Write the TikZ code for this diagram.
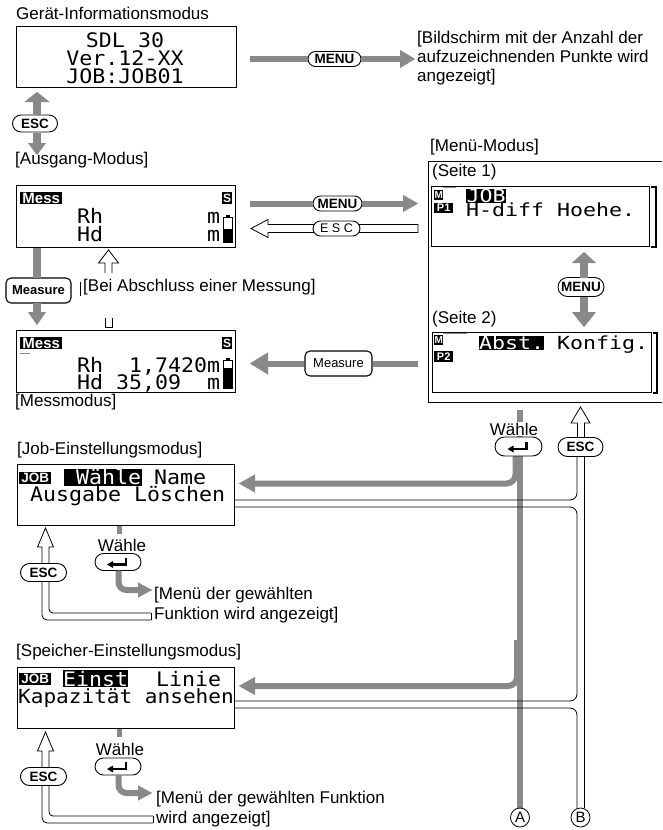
\documentclass[tikz,border=0pt]{standalone}
\usepackage{fontspec}
\setmainfont{Liberation Sans}
\newfontfamily\scrfont[FakeStretch=1.08]{DejaVu Sans Mono}
\newfontfamily\scrwide[FakeStretch=1.2]{DejaVu Sans Mono}
\usetikzlibrary{arrows.meta,shapes.misc}
\definecolor{keygray}{RGB}{137,137,137}
\tikzset{
  lbl/.style={anchor=base west, inner sep=0pt, font=\fontsize{17}{19}\selectfont},
  scr/.style={anchor=base west, inner sep=0pt, font=\scrfont\fontsize{20}{16}\selectfont},
  scrw/.style={anchor=base west, inner sep=0pt, font=\scrwide\fontsize{18}{14}\selectfont},
  screen/.style={draw, line width=1.4pt, anchor=north west, inner sep=0pt},
  inv/.style={fill=black, text=white, inner sep=0pt, anchor=north west, font=\bfseries\fontsize{#1}{#1}\selectfont},
  pill/.style={rounded rectangle, draw, fill=white, line width=0.9pt, inner sep=0pt, font=\bfseries\fontsize{13.5}{13.5}\selectfont},
  keybox/.style={rounded corners=5pt, draw, fill=white, line width=1.1pt, inner sep=0pt},
  gline/.style={draw=keygray, line width=6pt},
  garrow/.style={keygray, line width=6pt, -{Triangle[length=14pt,width=18pt,line width=0.01pt]}},
  gvert/.style={keygray, line width=8pt, -{Triangle[length=12pt,width=22pt,line width=0.01pt]}},
  wall/.style={draw=black, line width=0.8pt},
  hollow/.style={draw=black, fill=white, line width=0.8pt},
  circ/.style={circle, draw, line width=0.8pt, minimum size=19pt, inner sep=0pt, font=\fontsize{15}{15}\selectfont},
  bracketline/.style={line width=1.2pt},
  enterglyph/.pic={\draw[line width=2.2pt] (-7,2.5) -- (8,2.5) -- (8,-4.5); \fill (-11,2.5) -- (-5,-1) -- (-5,6) -- cycle;}
}
\begin{document}
\begin{tikzpicture}[x=1pt,y=-1pt]
\fill[white] (0,0) rectangle (662,830);
\useasboundingbox (0,0) rectangle (662,830);

% ---------- device info screen
\node[lbl] (t1) at (16,19) {Gerät-Informationsmodus};
\node[screen, minimum width=220pt, minimum height=61pt] (s1) at (16,26) {};
\node[scr, anchor=base] (s1a) at (125,47) {SDL 30};
\node[scr, anchor=base] (s1b) at (125,65) {Ver.12-XX};
\node[scr, anchor=base] (s1c) at (125,83) {JOB:JOB01};

\node[pill, minimum width=53pt, minimum height=15pt] (km1) at (334.5,59) {MENU};
\draw[gline] (250,59) -- (km1.west);
\draw[garrow, -{Triangle[length=15pt,width=18pt,line width=0.01pt]}] (km1.east) -- (415,59);
\node[lbl] (info1) at (417,43.5) {[Bildschirm mit der Anzahl der};
\node[lbl] (info2) at (417,62.5) {aufzuzeichnenden Punkte wird};
\node[lbl] (info3) at (417,81.5) {angezeigt]};

\node[pill, minimum width=45pt, minimum height=17pt] (ke1) at (35,123.5) {ESC};
\draw[gvert, -{Triangle[length=10pt,width=25pt,line width=0.01pt]}] (37,114.5) -- (37,92);
\draw[gvert, -{Triangle[length=12pt,width=18pt,line width=0.01pt]}] (37,132.5) -- (37,155);

% ---------- start screen
\node[lbl] (t2) at (15,164.5) {[Ausgang-Modus]};
\node[screen, minimum width=219pt, minimum height=62pt] (s2) at (16,185) {};
\node[inv=15, minimum width=42pt, minimum height=12pt] (mess2) at (20,192) {Mess};
\node[inv=12, minimum width=10pt, minimum height=12pt] (sig2) at (222,192) {S};
\node[scr] (rh2) at (77,223.5) {Rh};
\node[scr] (m2a) at (207,223.5) {m};
\node[scr] (hd2) at (77,241.5) {Hd};
\node[scr] (m2b) at (207,241.5) {m};
\draw[line width=1pt] (223.5,217.5) rectangle (232.5,242);
\fill (226,214.5) rectangle (230,217.5);
\fill (223.5,229) rectangle (232.5,242);

\node[pill, minimum width=49pt, minimum height=15pt] (km2) at (337.5,203.5) {MENU};
\draw[gline] (250,203.5) -- (km2.west);
\draw[garrow, -{Triangle[length=15pt,width=17pt,line width=0.01pt]}] (km2.east) -- (418,203.5);
\draw[hollow] (418,224.5) -- (268,224.5) -- (268,219.5) -- (251,228.5) -- (268,237.5) -- (268,232.5) -- (418,232.5) -- cycle;
\node[pill, font=\fontsize{12.5}{12.5}\selectfont, minimum width=47pt, minimum height=15pt] (ke2) at (336.5,228.5) {E S C};

% ---------- end of measurement
\draw[wall] (105,273) -- (105,263) -- (98.5,263) -- (108.5,250) -- (118.5,263) -- (112,263) -- (112,273);
\draw[wall] (105,318) -- (105,327) -- (112,327) -- (112,318);
\draw[line width=0.6pt] (80.5,282) -- (80.5,296);
\node[lbl] (bei) at (83,291.5) {[Bei Abschluss einer Messung]};

\node[keybox, font=\bfseries\fontsize{13}{13}\selectfont, minimum width=65pt, minimum height=25pt] (kms1) at (38.5,290.5) {Measure};
\draw[gvert, -] (37,247.7) -- (37,278);
\draw[gvert, -{Triangle[length=13pt,width=18pt,line width=0.01pt]}] (37,303) -- (37,325);

% ---------- measuring screen
\node[screen, minimum width=219pt, minimum height=62pt] (s3) at (16,330) {};
\node[inv=15, minimum width=42pt, minimum height=12pt] (mess3) at (20,337) {Mess};
\node[inv=12, minimum width=10pt, minimum height=12pt] (sig3) at (222,337) {S};
\draw[keygray, line width=1pt] (20,353.5) -- (30,353.5);
\node[scr] (rh3) at (77,372) {Rh~~1,7420m};
\node[scr] (hd3) at (77,389) {Hd~35,09~~m};
\draw[line width=1pt] (223.5,360.5) rectangle (232.5,388);
\fill (226,357.5) rectangle (230,360.5);
\fill (223.5,368) rectangle (232.5,388);
\node[lbl] (t3) at (15,406.5) {[Messmodus]};

\node[keybox, font=\fontsize{13}{13}\selectfont, minimum width=67pt, minimum height=25pt] (kms2) at (338.5,363.5) {Measure};
\draw[gline] (418,363.5) -- (kms2.east);
\draw[garrow, -{Triangle[length=18pt,width=22pt,line width=0.01pt]}] (kms2.west) -- (250,363.5);

% ---------- menu mode
\node[lbl] (menutitle) at (430,151.5) {[Menü-Modus]};
\draw[line width=1pt] (662,161) -- (428,161) -- (428,402) -- (662,402);
\node[lbl] (seite1) at (432,176.5) {(Seite 1)};
\node[screen, minimum width=218pt, minimum height=60pt] (p1) at (431,186) {};
\draw[bracketline] (651,187) -- (656,187) -- (656,247) -- (651,247);
\node[inv=10, minimum width=9pt, minimum height=10pt] (mm1) at (434,190) {M};
\draw[keygray, line width=1.2pt] (443,187.5) -- (456,187.5);
\node[inv=11, minimum width=19pt, minimum height=10pt] (pg1) at (434,203) {P1};
\node[inv=10, font=\scrwide\fontsize{18}{14}\selectfont, minimum width=40pt, minimum height=14pt] (job1) at (466,189) {JOB};
\node[scrw] (hdiff) at (466,216.5) {H-diff Hoehe.};

\node[pill, minimum width=46pt, minimum height=19pt] (km3) at (581,287) {MENU};
\draw[gvert, -{Triangle[length=11pt,width=24pt,line width=0.01pt]}] (584,277.5) -- (584,252);
\draw[gvert, -{Triangle[length=15pt,width=24pt,line width=0.01pt]}] (584,296.5) -- (584,327);

\node[lbl] (seite2) at (432,323) {(Seite 2)};
\node[screen, minimum width=219pt, minimum height=60pt] (p2) at (432,332) {};
\draw[bracketline] (653,333) -- (657,333) -- (657,393) -- (653,393);
\node[inv=10, minimum width=9pt, minimum height=10pt] (mm2) at (434,335) {M};
\draw[keygray, line width=1.2pt] (443,333.5) -- (467,333.5);
\node[inv=10, font=\scrwide\fontsize{18}{14}\selectfont, minimum width=64pt, minimum height=14pt] (abst) at (479,336) {Abst.};
\node[scrw] (konfig) at (557,349.5) {Konfig.};
\node[inv=11, minimum width=19pt, minimum height=11pt] (pg2) at (434,351) {P2};

% ---------- connector A (select)
\draw[gline] (520,410) -- (520,808);
\draw[garrow, rounded corners=9pt, -{Triangle[length=16pt,width=18pt,line width=0.01pt]}] (515.5,456) |- (239,483.5);
\draw[garrow, rounded corners=9pt, -{Triangle[length=16pt,width=18pt,line width=0.01pt]}] (517,640) |- (239,686);
\node[lbl, anchor=base, fill=white, inner sep=1pt] (wr) at (514,435) {Wähle};
\node[pill, minimum width=47pt, minimum height=19pt] (kwr) at (518.5,446.5) {};
\pic at (kwr) {enterglyph};

% ---------- connector B (esc)
\draw[wall] (577,423) -- (571,423) -- (580.5,407) -- (590,423) -- (584,423);
\draw[wall] (577,423) -- (577,438);
\draw[wall] (584,423) -- (584,438);
\node[pill, minimum width=45pt, minimum height=19pt] (ker) at (580.5,447) {ESC};
\draw[wall] (584,456.5) -- (584,808);
\draw[wall, rounded corners=7pt] (235,500) -| (577,456.5);
\draw[wall, rounded corners=7pt] (235,507) -| (577,701) -- (235,701);
\draw[wall, rounded corners=7pt] (235,708) -| (577,808);

\node[circ] (ca) at (520,817.5) {A};
\node[circ] (cb) at (580.5,817.5) {B};

% ---------- job settings
\node[lbl] (jobtitle) at (17,454.5) {[Job-Einstellungsmodus]};
\node[screen, minimum width=217pt, minimum height=61pt] (sj) at (17,464) {};
\node[inv=13.5, minimum width=32pt, minimum height=12pt] (jobs) at (19,472) {JOB};
\fill (64,468.5) rectangle (142,485.5);
\node[scr, text=white] (waehle) at (76,484) {Wähle};
\node[scr] (name) at (154,484) {Name};
\node[scr] (ausgabe) at (30,501.5) {Ausgabe Löschen};

\draw[wall] (42,563) -- (42,547) -- (37.5,547) -- (45.5,528) -- (53.5,547) -- (49,547) -- (49,563);
\node[pill, minimum width=46pt, minimum height=18pt] (kej) at (43.5,572.5) {ESC};
\draw[wall, rounded corners=5pt] (42,581.5) |- (151,620);
\draw[wall, rounded corners=4pt] (49,581.5) |- (151,613);
\draw[wall] (151,613) -- (151,620);

\draw[keygray, line width=5pt] (119,526) -- (119,534);
\node[lbl, anchor=base] (wj) at (122,551) {Wähle};
\node[pill, minimum width=46pt, minimum height=17pt] (kwj) at (118,562) {};
\pic at (kwj) {enterglyph};
\draw[garrow, rounded corners=8pt, -{Triangle[length=14pt,width=15pt,line width=0.01pt]}] (118.5,570.5) |- (152,590);
\node[lbl] (fj1) at (154,599.5) {[Menü der gewählten};
\node[lbl] (fj2) at (154,619) {Funktion wird angezeigt]};

% ---------- memory settings
\node[lbl] (memtitle) at (16,656.5) {[Speicher-Einstellungsmodus]};
\node[screen, minimum width=217pt, minimum height=61pt] (sm) at (17,667) {};
\node[inv=13.5, minimum width=32pt, minimum height=12pt] (jobm) at (19,673) {JOB};
\fill (63,670) rectangle (128,687);
\node[scr, text=white] (einst) at (63,686) {Einst};
\node[scr] (linie) at (156,686) {Linie};
\node[scr, font=\scrfont\fontsize{19.5}{16}\selectfont] (kap) at (18,703) {Kapazität ansehen};

\draw[wall] (42,767) -- (42,751) -- (37.5,751) -- (45.5,732) -- (53.5,751) -- (49,751) -- (49,767);
\node[pill, minimum width=46pt, minimum height=18pt] (kem) at (43.5,776.5) {ESC};
\draw[wall, rounded corners=5pt] (42,785.5) |- (153,823);
\draw[wall, rounded corners=4pt] (49,785.5) |- (153,816);
\draw[wall] (153,816) -- (153,823);

\draw[keygray, line width=5pt] (119,729) -- (119,737);
\node[lbl, anchor=base] (wm) at (120,755) {Wähle};
\node[pill, minimum width=46pt, minimum height=17pt] (kwm) at (118,766.5) {};
\pic at (kwm) {enterglyph};
\draw[garrow, rounded corners=8pt, -{Triangle[length=14pt,width=15pt,line width=0.01pt]}] (118.5,775) |- (152,793);
\node[lbl] (fm1) at (156,803.5) {[Menü der gewählten Funktion};
\node[lbl] (fm2) at (156,823.5) {wird angezeigt]};
\end{tikzpicture}
\end{document}
